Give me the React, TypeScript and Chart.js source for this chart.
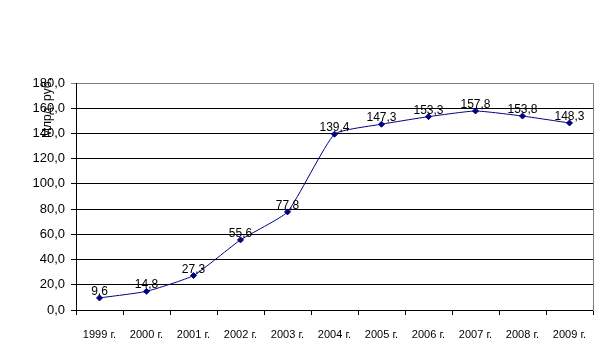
import React, { useEffect, useRef } from "react";
import { Chart, registerables } from "chart.js";

Chart.register(...registerables);

const categories = ["1999 г.", "2000 г.", "2001 г.", "2002 г.", "2003 г.", "2004 г.", "2005 г.", "2006 г.", "2007 г.", "2008 г.", "2009 г."];
const values = [9.6, 14.8, 27.3, 55.6, 77.8, 139.4, 147.3, 153.3, 157.8, 153.8, 148.3];
const yTitle = "Млрд. руб.";
const yMin = 0;
const yMax = 180;
const yStep = 20;

const FONT = "'Liberation Sans', Arial, sans-serif";
const fmt = (v: number) => v.toFixed(1).replace(".", ",");

const extras = {
  id: "extras",
  afterDatasetsDraw(chart: any) {
    const ctx = chart.ctx;
    const area = chart.chartArea;
    ctx.save();
    // right border of plot area
    ctx.strokeStyle = "#808080";
    ctx.lineWidth = 1;
    ctx.beginPath();
    const rx = Math.round(area.right) + 0.5;
    ctx.moveTo(rx, Math.round(area.top));
    ctx.lineTo(rx, Math.round(area.bottom) + 1);
    ctx.stroke();
    // data labels
    const meta = chart.getDatasetMeta(0);
    ctx.fillStyle = "#000000";
    ctx.font = "12px " + FONT;
    ctx.textAlign = "center";
    ctx.textBaseline = "alphabetic";
    meta.data.forEach((pt: any, i: number) => {
      ctx.fillText(fmt(values[i]), pt.x, pt.y - 3);
    });
    // y title
    ctx.translate(47.5, 108);
    ctx.rotate(-Math.PI / 2);
    ctx.font = "12px " + FONT;
    ctx.textAlign = "center";
    ctx.textBaseline = "middle";
    ctx.fillText(yTitle, 0, 0);
    ctx.restore();
  },
};

export default function App() {
  const ref = useRef<HTMLCanvasElement | null>(null);
  useEffect(() => {
    document.body.style.margin = "0";
    const chart = new Chart(ref.current as HTMLCanvasElement, {
      type: "line",
      data: {
        labels: categories,
        datasets: [
          {
            data: values,
            borderColor: "#000080",
            backgroundColor: "#000080",
            borderWidth: 1,
            pointStyle: "rectRot",
            pointRadius: 3,
            pointBorderWidth: 1,
            tension: 0.15,
            fill: false,
          },
        ],
      },
      options: {
        responsive: false,
        animation: false,
        layout: { padding: { top: 83, right: 17, left: 0, bottom: 0 } },
        plugins: { legend: { display: false }, tooltip: { enabled: false } },
        scales: {
          x: {
            type: "category",
            offset: true,
            afterFit: (s: any) => {
              s.height = 43;
            },
            grid: {
              offset: true,
              drawOnChartArea: false,
              drawTicks: true,
              tickLength: 5,
              color: "#000000",
            },
            border: { color: "#000000", width: 1 },
            ticks: {
              color: "#000000",
              font: { family: FONT, size: 11 },
              padding: 13,
              maxRotation: 0,
              autoSkip: false,
            },
          },
          y: {
            min: yMin,
            max: yMax,
            afterFit: (s: any) => {
              s.width = 76;
            },
            grid: {
              color: (c: any) => (c.tick && c.tick.value === yMax ? "#808080" : "#000000"),
              tickLength: 5,
              lineWidth: 1,
            },
            border: { color: "#000000", width: 1 },
            ticks: {
              stepSize: yStep,
              color: "#000000",
              font: { family: FONT, size: 13 },
              padding: 6,
              callback: (v: any) => fmt(Number(v)),
            },
          },
        },
      },
      plugins: [extras],
    } as any);
    return () => chart.destroy();
  }, []);
  return <canvas ref={ref} width={610} height={353} style={{ display: "block", width: 610, height: 353 }} />;
}
